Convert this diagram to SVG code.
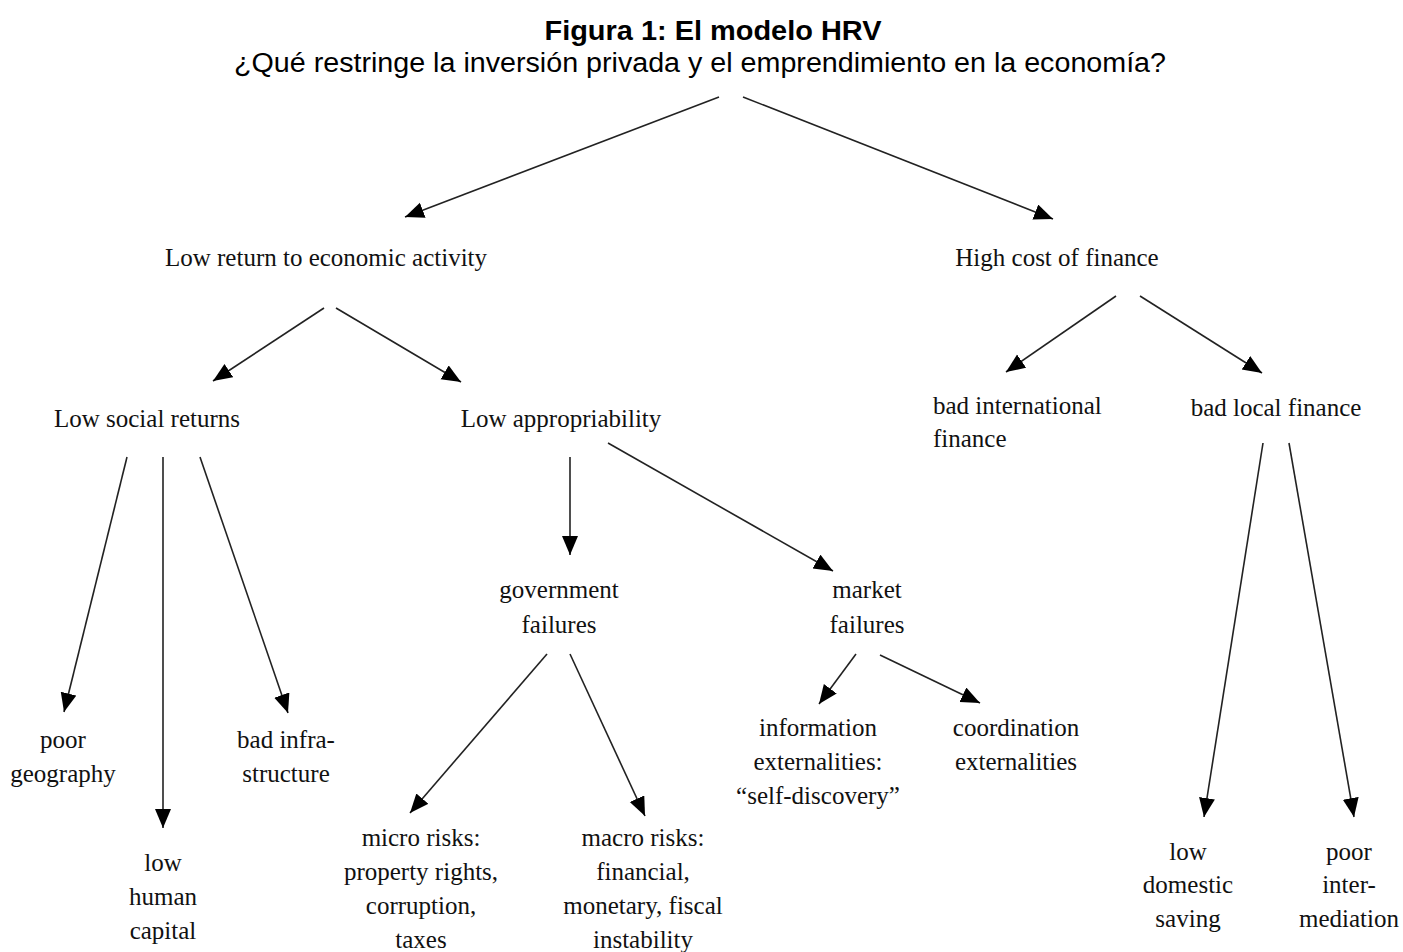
<svg xmlns="http://www.w3.org/2000/svg" width="1403" height="952" viewBox="0 0 1403 952">
<style>
.t{font-family:"Liberation Serif","Times New Roman",serif;font-size:25px;fill:#111;text-anchor:middle}
.l{text-anchor:start}
.h{font-family:"Liberation Sans",Arial,sans-serif;font-size:27px;fill:#000;text-anchor:middle}
.c line{stroke:#222;stroke-width:1.6;marker-end:url(#a)}
</style>
<defs>
<marker id="a" markerUnits="userSpaceOnUse" markerWidth="22" markerHeight="18" refX="19" refY="8" orient="auto">
<path d="M0,0 L19,8 L0,16 z" fill="#000"/>
</marker>
</defs>
<rect width="1403" height="952" fill="#fff"/>
<g id="title">
<text class="h" x="713" y="40" font-size="26" font-weight="bold" textLength="337" lengthAdjust="spacingAndGlyphs">Figura 1: El modelo HRV</text>
<text class="h" x="700" y="72" textLength="932" lengthAdjust="spacingAndGlyphs">¿Qué restringe la inversión privada y el emprendimiento en la economía?</text>
</g>
<g class="c" id="connectors">
<line x1="719" y1="97" x2="405" y2="217"/>
<line x1="743" y1="97" x2="1053" y2="219"/>
<line x1="324" y1="308" x2="213" y2="381"/>
<line x1="336" y1="308" x2="461" y2="382"/>
<line x1="1116" y1="296" x2="1006" y2="372"/>
<line x1="1140" y1="296" x2="1262" y2="373"/>
<line x1="127" y1="457" x2="64" y2="712"/>
<line x1="163" y1="457" x2="163" y2="828"/>
<line x1="200" y1="457" x2="288" y2="713"/>
<line x1="570" y1="457" x2="570" y2="555"/>
<line x1="608" y1="443" x2="833" y2="571"/>
<line x1="547" y1="654" x2="410" y2="813"/>
<line x1="570" y1="654" x2="645" y2="816"/>
<line x1="856" y1="654" x2="819" y2="704"/>
<line x1="880" y1="655" x2="980" y2="703"/>
<line x1="1263" y1="443" x2="1204" y2="817"/>
<line x1="1289" y1="443" x2="1354" y2="817"/>
</g>
<g id="n-low-return"><text class="t" x="326" y="266">Low return to economic activity</text></g>
<g id="n-high-cost"><text class="t" x="1057" y="266">High cost of finance</text></g>
<g id="n-low-social"><text class="t" x="147" y="427">Low social returns</text></g>
<g id="n-low-approp"><text class="t" x="561" y="427">Low appropriability</text></g>
<g id="n-bad-intl"><text class="t l" x="933" y="414">bad international</text><text class="t l" x="933" y="447">finance</text></g>
<g id="n-bad-local"><text class="t" x="1276" y="416">bad local finance</text></g>
<g id="n-poor-geo"><text class="t" x="63" y="748">poor</text><text class="t" x="63" y="782">geography</text></g>
<g id="n-bad-infra"><text class="t" x="286" y="748">bad infra-</text><text class="t" x="286" y="782">structure</text></g>
<g id="n-low-human"><text class="t" x="163" y="871">low</text><text class="t" x="163" y="905">human</text><text class="t" x="163" y="939">capital</text></g>
<g id="n-gov"><text class="t" x="559" y="598">government</text><text class="t" x="559" y="633">failures</text></g>
<g id="n-market"><text class="t" x="867" y="598">market</text><text class="t" x="867" y="633">failures</text></g>
<g id="n-micro"><text class="t" x="421" y="846">micro risks:</text><text class="t" x="421" y="880">property rights,</text><text class="t" x="421" y="914">corruption,</text><text class="t" x="421" y="948">taxes</text></g>
<g id="n-macro"><text class="t" x="643" y="846">macro risks:</text><text class="t" x="643" y="880">financial,</text><text class="t" x="643" y="914">monetary, fiscal</text><text class="t" x="643" y="948">instability</text></g>
<g id="n-info"><text class="t" x="818" y="736">information</text><text class="t" x="818" y="770">externalities:</text><text class="t" x="818" y="804">“self-discovery”</text></g>
<g id="n-coord"><text class="t" x="1016" y="736">coordination</text><text class="t" x="1016" y="770">externalities</text></g>
<g id="n-low-dom"><text class="t" x="1188" y="860">low</text><text class="t" x="1188" y="893">domestic</text><text class="t" x="1188" y="927">saving</text></g>
<g id="n-poor-inter"><text class="t" x="1349" y="860">poor</text><text class="t" x="1349" y="893">inter-</text><text class="t" x="1349" y="927">mediation</text></g>
</svg>
